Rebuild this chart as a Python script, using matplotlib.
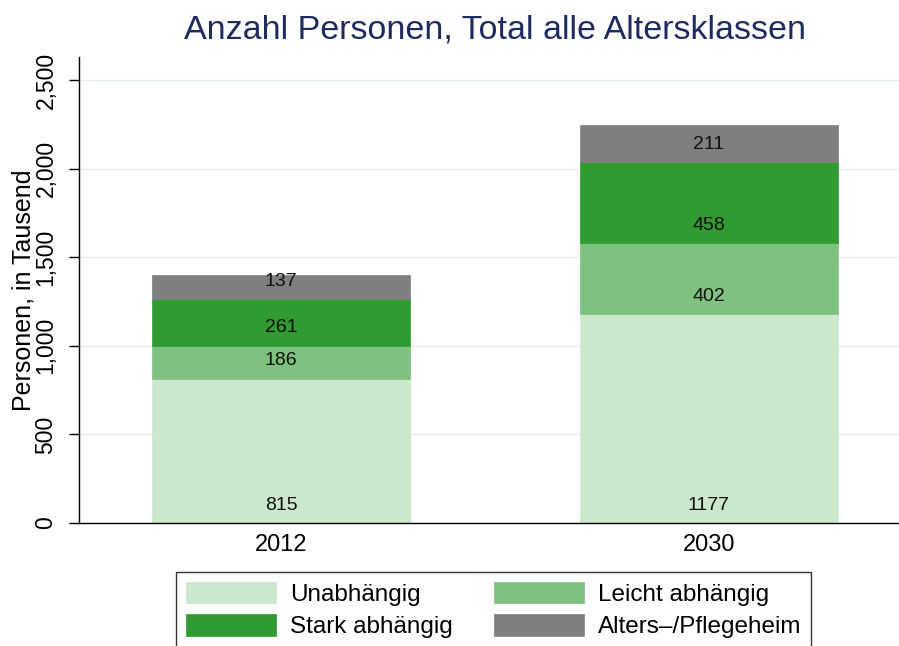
import matplotlib.pyplot as plt
import numpy as np

plt.rcParams['font.family'] = ['Liberation Sans', 'DejaVu Sans']

years = ['2012', '2030']
categories = ['Unabhängig', 'Leicht abhängig', 'Stark abhängig', 'Alters\u2013/Pflegeheim']
values = {
    'Unabhängig': [815, 1177],
    'Leicht abhängig': [186, 402],
    'Stark abhängig': [261, 458],
    'Alters\u2013/Pflegeheim': [137, 211],
}
colors = ['#cce8cc', '#7fc17f', '#319b31', '#7f7f7f']

fig = plt.figure(figsize=(8.99, 6.46), dpi=100)
ax = fig.add_axes([79 / 899, 1 - 523 / 646, 1 - 79 / 899, (523 - 57) / 646])

x = np.arange(1, len(years) + 1)
bottom = np.zeros(len(years))
handles = []
for cat, col in zip(categories, colors):
    vals = np.array(values[cat], dtype=float)
    b = ax.bar(x, vals, width=0.603, bottom=bottom, color=col, edgecolor=col,
               linewidth=0.5, zorder=2, label=cat)
    handles.append(b)
    # Stata puts the label a fixed distance above each segment's base
    for xi, bi, vi in zip(x, bottom, vals):
        ax.text(xi, bi + 100, f'{vi:.0f}', ha='center', va='center',
                fontsize=14, color='#111111', zorder=3)
    bottom += vals

ax.set_xlim(1 - 202 / 428, 2 + 190 / 428)
ax.set_ylim(0, 2630)
ax.set_xticks(x)
ax.set_xticklabels(years, fontsize=17)
ax.set_yticks(np.arange(0, 2501, 500))
ax.set_yticklabels([f'{v:,}' for v in range(0, 2501, 500)], fontsize=16.5,
                   rotation=90, va='center')
ax.tick_params(axis='y', length=7.5, width=1, pad=8)
ax.tick_params(axis='x', length=0, pad=8)
ax.yaxis.grid(True, color='#e6eeed', linewidth=1, zorder=0)
ax.set_axisbelow(True)
for s in ['top', 'right']:
    ax.spines[s].set_visible(False)
ax.spines['left'].set_linewidth(1)
ax.spines['bottom'].set_linewidth(1)
ax.set_ylabel('Personen, in Tausend', fontsize=18, labelpad=-1)

fig.text(0.551, 0.953, 'Anzahl Personen, Total alle Altersklassen', ha='center',
         va='center', fontsize=24.5, color='#1e2b5e')

# row-wise order like Stata: Unabhängig, Leicht / Stark, Alters
order = [0, 2, 1, 3]
leg = fig.legend(handles=[handles[i] for i in order],
                 labels=[categories[i] for i in order], ncol=2, loc='upper left',
                 bbox_to_anchor=(176 / 899, 1 - 572 / 646), fontsize=17.5,
                 frameon=True, fancybox=False, edgecolor='black',
                 handlelength=3.7, handleheight=1.0, columnspacing=1.7,
                 handletextpad=0.58, borderpad=0.4, labelspacing=0.33,
                 borderaxespad=0)
leg.get_frame().set_linewidth(1)

fig.savefig('out.png', dpi=100)
